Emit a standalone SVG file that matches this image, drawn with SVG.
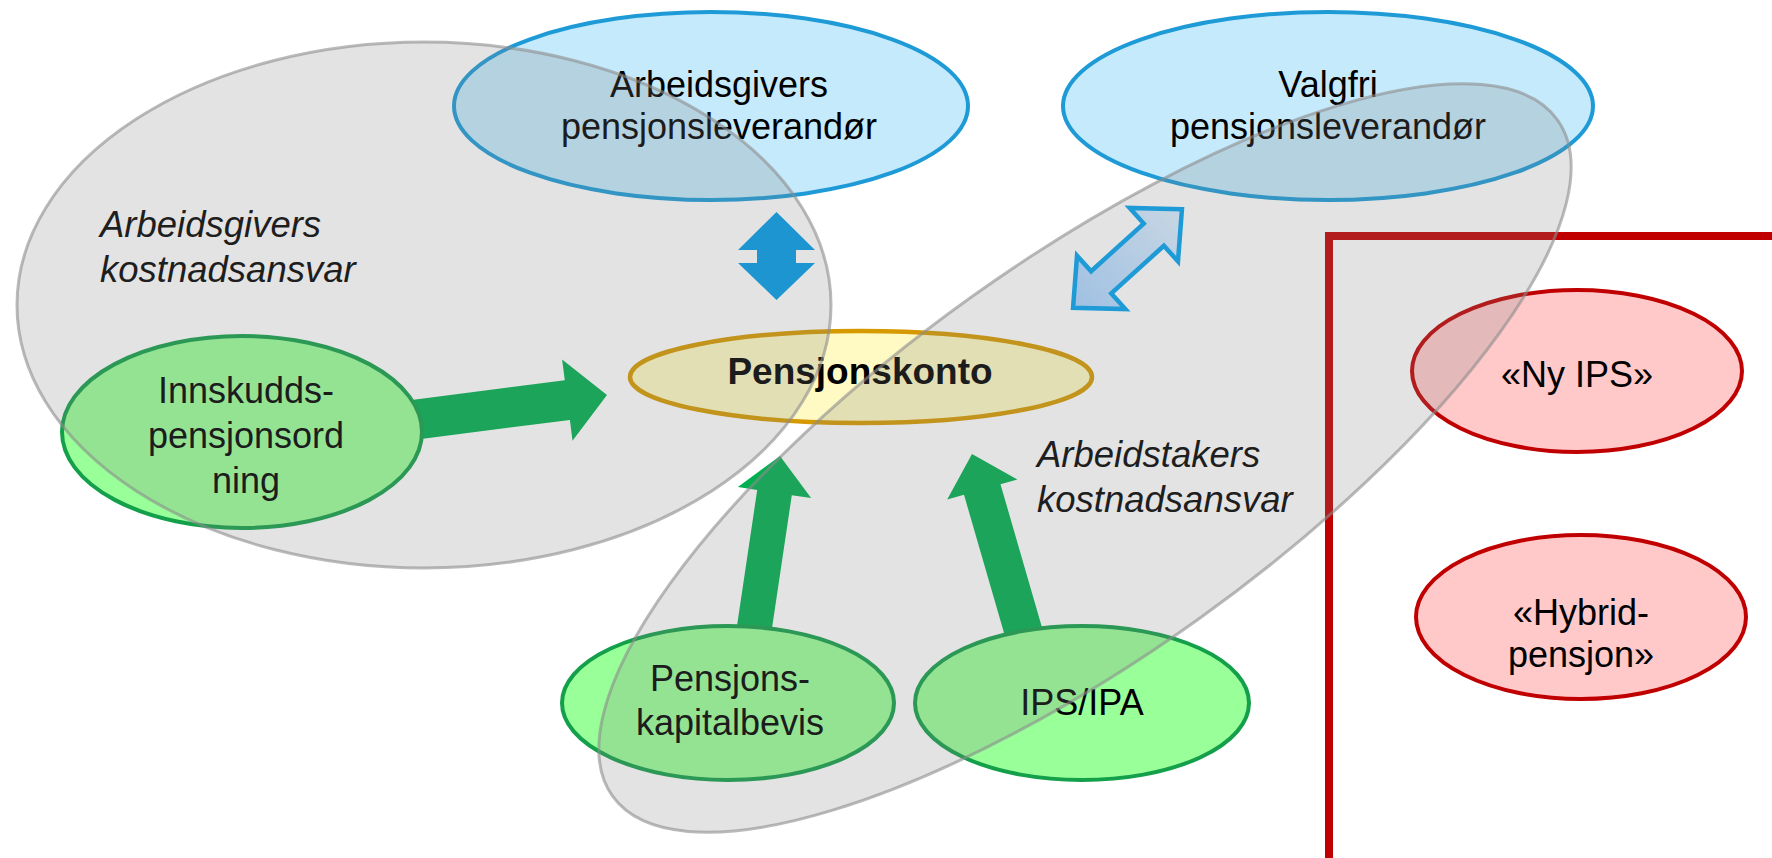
<svg xmlns="http://www.w3.org/2000/svg" width="1772" height="858" viewBox="0 0 1772 858">
<defs>
<linearGradient id="diagFill" x1="0" y1="0" x2="1" y2="0">
<stop offset="0" stop-color="#a9d3ff"/>
<stop offset="1" stop-color="#dcefff"/>
</linearGradient>
<style>
.t{font-family:"Liberation Sans",Arial,sans-serif;font-size:36px;fill:#000;text-anchor:middle}
.b{font-weight:bold;font-size:37px}
.lbl{font-family:"Liberation Sans",Arial,sans-serif;font-size:36.5px;font-style:italic;fill:#1e1e1e}
.blue{fill:#c5eafb;stroke:#1e9bd7;stroke-width:4}
.green{fill:#99ff99;stroke:#14a04a;stroke-width:4}
.pink{fill:#ffc9c9;stroke:#c00000;stroke-width:4}
.yellow{fill:#fffac3;stroke:#d69a00;stroke-width:4.5}
.region{fill:#7f7f7f;fill-opacity:0.22;stroke:#8c8c8c;stroke-opacity:0.6;stroke-width:3}
.garrow{fill:#00b050}
.barrow{fill:#009be8}
.darrow{fill:url(#diagFill);stroke:#03a3f0;stroke-width:4.5;stroke-linejoin:miter}
.boundary{fill:none;stroke:#c00000;stroke-width:8}
</style>
</defs>
<rect width="1772" height="858" fill="#ffffff"/>

<g id="boundary">
<polyline class="boundary" points="1329,858 1329,236 1772,236"/>
</g>

<g id="connectors">
<polygon class="garrow" points="367.4,405.7 564.8,380.3 562.1,359.4 607,395 572.5,440.8 569.9,419.9 372.6,445.3"/>
<polygon class="garrow" points="732.3,657.4 757.2,490 737.9,487.1 780,456 811.1,498.1 791.8,495.2 766.9,662.6"/>
<polygon class="garrow" points="1013.4,665.3 964,494.8 947.2,499.6 972,454 1017.4,479.4 1000.5,484.2 1049.9,654.7"/>
<polygon class="barrow" points="776.5,212 815,250 796,250 796,263 815,263 776.5,300 738,263 757,263 757,250 738,250"/>
<g transform="translate(1127.5,258.5) rotate(-42.2)">
<polygon class="darrow" points="73.5,0 35.5,-36 35.5,-15 -35.5,-15 -35.5,-36 -73.5,0 -35.5,36 -35.5,15 35.5,15 35.5,36"/>
</g>
</g>

<g id="node-arbeidsgivers-leverandor">
<ellipse class="blue" cx="711" cy="106" rx="257" ry="94"/>
<text class="t" x="719" y="97">Arbeidsgivers</text>
<text class="t" x="719" y="139">pensjonsleverandør</text>
</g>

<g id="node-valgfri-leverandor">
<ellipse class="blue" cx="1328" cy="106" rx="265" ry="94"/>
<text class="t" x="1328" y="97">Valgfri</text>
<text class="t" x="1328" y="139">pensjonsleverandør</text>
</g>

<g id="node-pensjonskonto">
<ellipse class="yellow" cx="861" cy="377" rx="231" ry="46"/>
<text class="t b" x="860" y="384">Pensjonskonto</text>
</g>

<g id="node-innskudd">
<ellipse class="green" cx="242" cy="432" rx="180" ry="96"/>
<text class="t" x="246" y="403">Innskudds-</text>
<text class="t" x="246" y="448">pensjonsord</text>
<text class="t" x="246" y="493">ning</text>
</g>

<g id="node-kapitalbevis">
<ellipse class="green" cx="728" cy="703" rx="166" ry="77"/>
<text class="t" x="730" y="691">Pensjons-</text>
<text class="t" x="730" y="735">kapitalbevis</text>
</g>

<g id="node-ips-ipa">
<ellipse class="green" cx="1082" cy="703" rx="167" ry="77"/>
<text class="t" x="1082" y="715">IPS/IPA</text>
</g>

<g id="node-ny-ips">
<ellipse class="pink" cx="1577" cy="371" rx="165" ry="81"/>
<text class="t" x="1577" y="387">«Ny IPS»</text>
</g>

<g id="node-hybrid">
<ellipse class="pink" cx="1581" cy="617" rx="165" ry="82"/>
<text class="t" x="1581" y="625">«Hybrid-</text>
<text class="t" x="1581" y="667">pensjon»</text>
</g>

<g id="region-arbeidsgiver">
<ellipse class="region" cx="424" cy="305" rx="407" ry="263"/>
<text class="lbl" x="100" y="237">Arbeidsgivers</text>
<text class="lbl" x="100" y="282">kostnadsansvar</text>
</g>

<g id="region-arbeidstaker">
<ellipse class="region" cx="1085" cy="458" rx="581" ry="197" transform="rotate(-35.6 1085 458)"/>
<text class="lbl" x="1037" y="467">Arbeidstakers</text>
<text class="lbl" x="1037" y="512">kostnadsansvar</text>
</g>
</svg>
